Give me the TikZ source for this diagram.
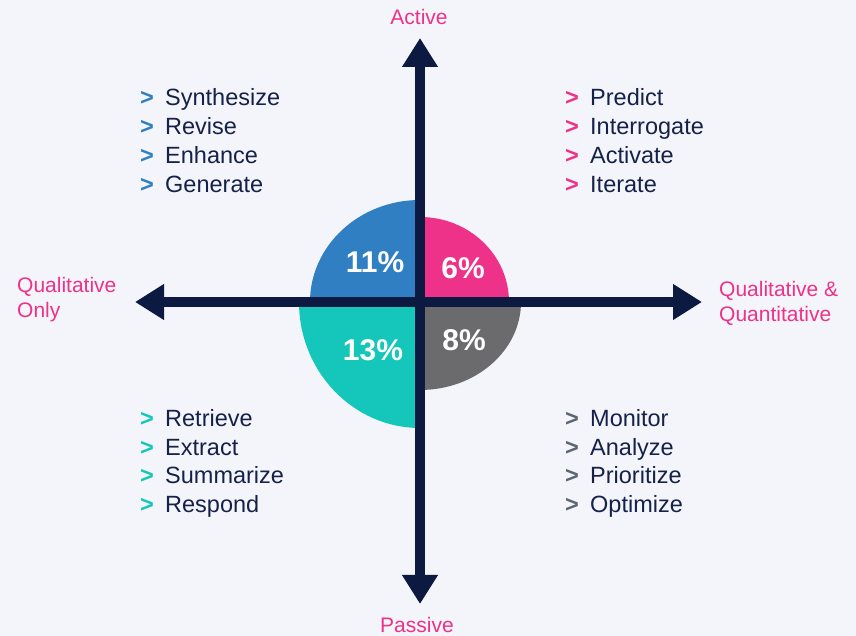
\documentclass[tikz,border=0pt]{standalone}
\usepackage{fontspec}
\setmainfont{Liberation Sans}
\usepackage{xcolor}
\usetikzlibrary{arrows.meta}

\definecolor{bgc}{HTML}{F4F5FA}
\definecolor{navy}{HTML}{0C1A42}
\definecolor{textnavy}{HTML}{16214A}
\definecolor{bluec}{HTML}{2F7FC2}
\definecolor{pinkc}{HTML}{EE3189}
\definecolor{tealc}{HTML}{14C7BA}
\definecolor{grayc}{HTML}{6B6B6D}
\definecolor{graybul}{HTML}{5B6670}

\newcommand{\bul}[1]{\makebox[25pt][l]{\textcolor{#1}{\textbf{>}}}}

\begin{document}
\begin{tikzpicture}[x=1pt, y=1pt,
  axis/.style={line width=10pt, draw=navy,
    {Triangle[length=29pt,width=34pt]}-{Triangle[length=29pt,width=34pt]}},
  axlabel/.style={text=pinkc, inner sep=0pt, font=\fontsize{21}{25}\selectfont},
  item/.style={anchor=base west, inner sep=0pt, text=textnavy,
    font=\fontsize{23.5}{28}\selectfont},
  pct/.style={text=white, inner sep=0pt, font=\fontsize{30}{36}\selectfont\bfseries}]
\useasboundingbox (0,0) rectangle (856,636);
\fill[bgc] (0,0) rectangle (856,636);

\coordinate (o)   at (420,334);
\coordinate (top) at (420,598);
\coordinate (bot) at (420,32);
\coordinate (lft) at (135,334);
\coordinate (rgt) at (702,334);

% quadrants
\fill[bluec] (o) -- ++(-110,0) arc[start angle=180, end angle=90,  x radius=110, y radius=102] -- cycle;
\fill[pinkc] (o) -- ++(0,85)   arc[start angle=90,  end angle=0,   x radius=89,  y radius=85]  -- cycle;
\fill[tealc] (o) -- ++(-121,0) arc[start angle=180, end angle=270, x radius=121, y radius=126] -- cycle;
\fill[grayc] (o) -- ++(101,0)  arc[start angle=0,   end angle=-90, x radius=101, y radius=88]  -- cycle;

\node[pct] (p11) at (375,374) {11\%};
\node[pct] (p6)  at (463,368) {6\%};
\node[pct] (p13) at (373,286) {13\%};
\node[pct] (p8)  at (464,296) {8\%};

% axes
\draw[axis] (bot) -- (top);
\draw[axis] (lft) -- (rgt);

\node[axlabel]                         (active)  at (419,619) {Active};
\node[axlabel]                         (passive) at (417,11)  {Passive};
\node[axlabel, anchor=west, align=left] (qualonly) at (17,336) {Qualitative\\Only};
\node[axlabel, anchor=west, align=left] (qualquant) at (719,333) {Qualitative \&\\Quantitative};

% word lists
\foreach \w [count=\i] in {Synthesize,Revise,Enhance,Generate}
  \node[item] (tl\i) at (140,{530-28.7*(\i-1)}) {\bul{bluec}\w};
\foreach \w [count=\i] in {Predict,Interrogate,Activate,Iterate}
  \node[item] (tr\i) at (565,{530-28.7*(\i-1)}) {\bul{pinkc}\w};
\foreach \w [count=\i] in {Retrieve,Extract,Summarize,Respond}
  \node[item] (bl\i) at (140,{209-28.5*(\i-1)}) {\bul{tealc}\w};
\foreach \w [count=\i] in {Monitor,Analyze,Prioritize,Optimize}
  \node[item] (br\i) at (565,{209-28.5*(\i-1)}) {\bul{graybul}\w};
\end{tikzpicture}
\end{document}
